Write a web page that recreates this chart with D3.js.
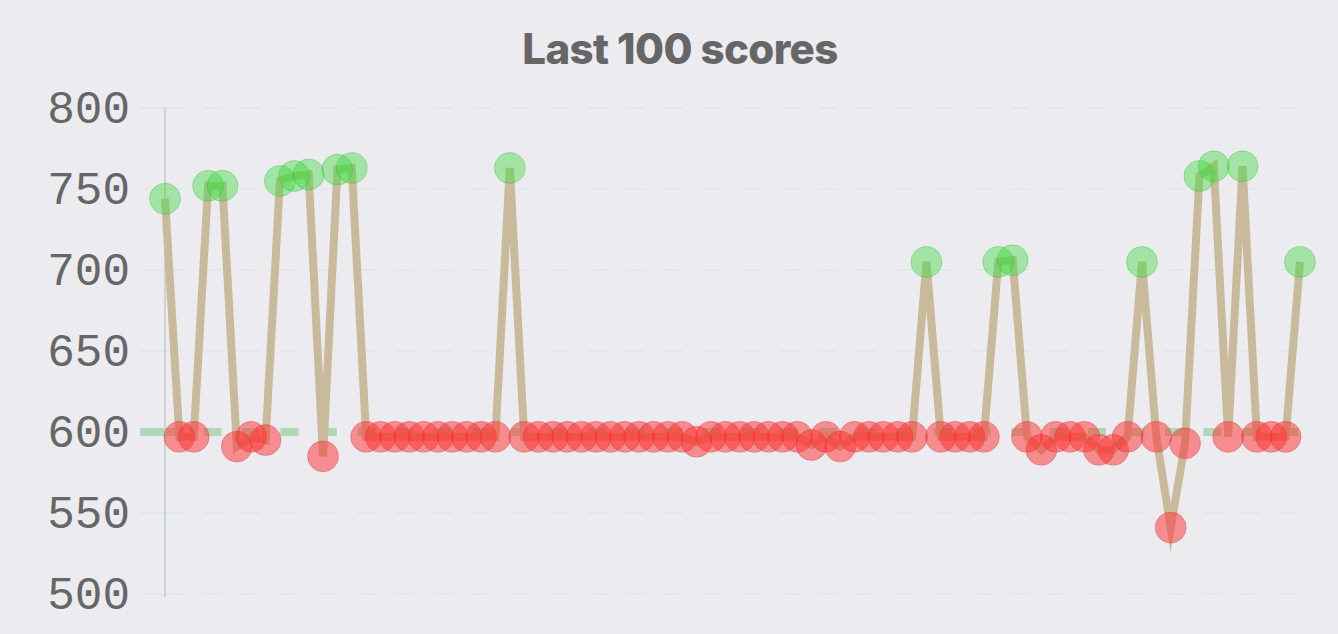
<!DOCTYPE html>
<html>
<head>
<meta charset="utf-8">
<script src="https://cdn.jsdelivr.net/npm/d3@7"></script>
<style>
  html, body { margin: 0; padding: 0; background: #ebebf0; }
  #chart { width: 1338px; height: 634px; }
</style>
</head>
<body>
<div id="chart"></div>
<script>
// =====================================
// DATA
// =====================================

const title = "Last 100 scores";

const scores = [
  744, 597, 597, 752, 752, 591, 597, 595, 755, 758,
  759, 585, 762, 763, 597, 597, 597, 597, 597, 597,
  597, 597, 597, 597, 763, 597, 597, 597, 597, 597,
  597, 597, 597, 597, 597, 597, 597, 594, 597, 597,
  597, 597, 597, 597, 597, 592, 597, 591, 597, 597,
  597, 597, 597, 705, 597, 597, 597, 597, 705, 706,
  597, 589, 597, 597, 597, 589, 589, 597, 705, 597,
  541, 593, 758, 764, 597, 764, 597, 597, 597, 705
];

const yTicks = [500, 550, 600, 650, 700, 750, 800];
const passMark = 600;

// =====================================
// DIMENSIONS
// =====================================

const W = 1338, H = 634;
const margin = { top: 108, right: 38, bottom: 40, left: 165 };
const width = W - margin.left - margin.right;
const height = 594 - margin.top;

const svg = d3.select("#chart")
  .append("svg")
  .attr("width", W)
  .attr("height", H);

svg.append("rect")
  .attr("width", W)
  .attr("height", H)
  .attr("fill", "#ebebf0");

// =====================================
// SCALES
// =====================================

const x = d3.scalePoint()
  .domain(d3.range(scores.length))
  .range([margin.left, margin.left + width]);

const y = d3.scaleLinear()
  .domain([500, 800])
  .range([margin.top + height, margin.top]);

// =====================================
// GRID + AXIS
// =====================================

const grid = svg.append("g").attr("class", "grid");

// tick marks (solid) left of the axis
grid.selectAll(".tick-mark")
  .data(yTicks)
  .enter()
  .append("line")
  .attr("x1", margin.left - 25)
  .attr("x2", margin.left)
  .attr("y1", d => y(d))
  .attr("y2", d => y(d))
  .style("stroke", d => d === passMark ? "rgba(70,180,70,0.35)" : "#e0e9e7")
  .style("stroke-width", d => d === passMark ? 8 : 2);

// dashed grid lines
grid.selectAll(".grid-line")
  .data(yTicks)
  .enter()
  .append("line")
  .attr("x1", margin.left)
  .attr("x2", margin.left + width)
  .attr("y1", d => y(d))
  .attr("y2", d => y(d))
  .style("stroke", d => d === passMark ? "rgba(70,180,70,0.35)" : "#e0e9e7")
  .style("stroke-width", d => d === passMark ? 8 : 2)
  .style("stroke-dasharray", "18 20.46");

// y axis line
svg.append("line")
  .attr("x1", margin.left)
  .attr("x2", margin.left)
  .attr("y1", margin.top)
  .attr("y2", margin.top + height + 3)
  .style("stroke", "#cdd3d3")
  .style("stroke-width", 2);

// y tick labels
const yAxis = d3.axisLeft(y)
  .tickValues(yTicks)
  .tickSize(0)
  .tickPadding(35);

svg.append("g")
  .attr("class", "axis")
  .attr("transform", `translate(${margin.left},0)`)
  .call(yAxis)
  .call(g => g.select(".domain").remove())
  .call(g => g.selectAll("text")
    .style("font-family", "'Liberation Mono', 'DejaVu Sans Mono', monospace")
    .style("font-size", "46px")
    .style("fill", "#666"));

// =====================================
// TITLE
// =====================================

svg.append("text")
  .attr("x", 680)
  .attr("y", 64)
  .attr("text-anchor", "middle")
  .style("font-family", "Inter, 'Noto Sans', sans-serif")
  .style("font-weight", 800)
  .style("font-size", "42px")
  .style("letter-spacing", "-0.6px")
  .style("fill", "#666")
  .text(title);

// =====================================
// LINE
// =====================================

const line = d3.line()
  .x((d, i) => x(i))
  .y(d => y(d));

svg.append("path")
  .datum(scores)
  .attr("d", line)
  .style("fill", "none")
  .style("stroke", "#c9ba9c")
  .style("stroke-width", 8)
  .style("stroke-linejoin", "miter")
  .style("stroke-miterlimit", 10)
  .style("stroke-linecap", "butt");

// =====================================
// POINTS
// =====================================

svg.selectAll(".point")
  .data(scores)
  .enter()
  .append("circle")
  .attr("class", "point")
  .attr("cx", (d, i) => x(i))
  .attr("cy", d => y(d))
  .attr("r", 15.5)
  .style("fill", d => d > passMark ? "rgba(60,220,60,0.42)" : "rgba(255,45,45,0.5)")
  .style("stroke", d => d > passMark ? "rgba(60,170,60,0.3)" : "rgba(200,60,60,0.3)")
  .style("stroke-width", 1);
</script>
</body>
</html>
